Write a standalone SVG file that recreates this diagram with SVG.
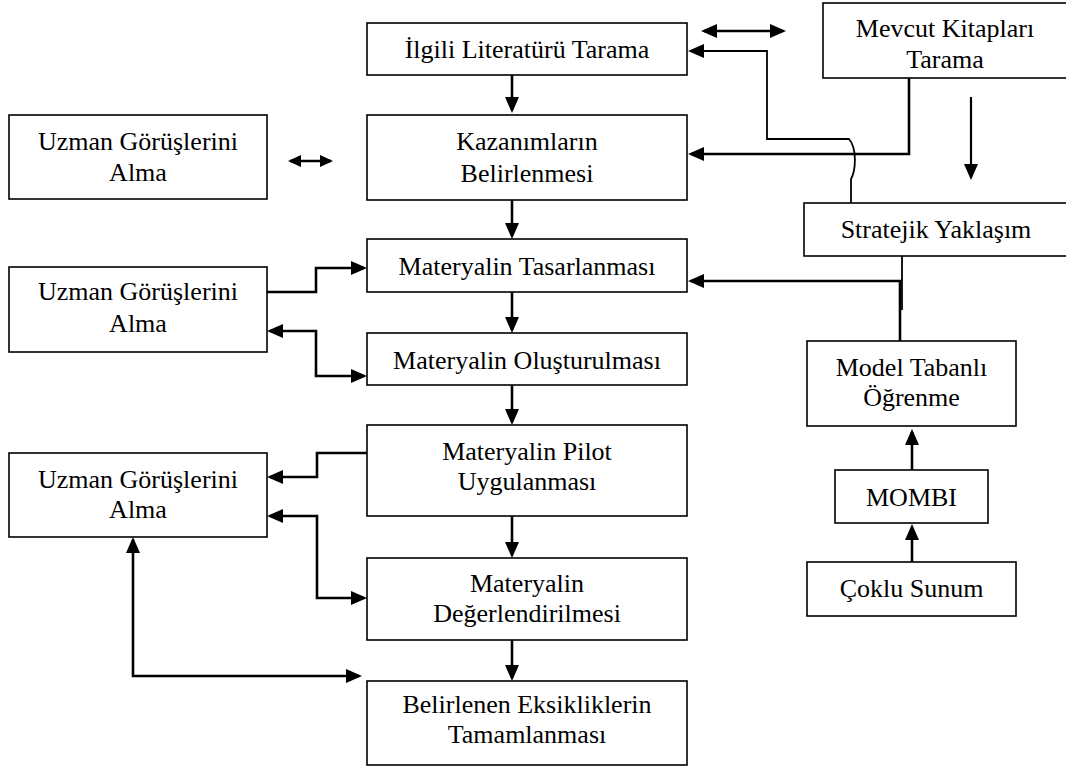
<svg xmlns="http://www.w3.org/2000/svg" width="1066" height="766" viewBox="0 0 1066 766">
  <style>
    .box { fill: #fff; stroke: #000; stroke-width: 1.6; }
    .lbl { font-family: "Liberation Serif", "Times New Roman", serif; font-size: 26px; fill: #000; text-anchor: middle; }
    .con { fill: none; stroke: #000; stroke-width: 2.6; }
    .thin { fill: none; stroke: #000; stroke-width: 1.8; }
  </style>
  <defs>
    <marker id="ah" viewBox="0 0 16 14" refX="13" refY="7" markerWidth="16" markerHeight="14" markerUnits="userSpaceOnUse" orient="auto-start-reverse">
      <path d="M0,0 L16,7 L0,14 z" fill="#000"/>
    </marker>
    <marker id="ahs" viewBox="0 0 13 12" refX="11" refY="6" markerWidth="13" markerHeight="12" markerUnits="userSpaceOnUse" orient="auto-start-reverse">
      <path d="M0,0 L13,6 L0,12 z" fill="#000"/>
    </marker>
  </defs>

  <rect width="1066" height="766" fill="#fff"/>

  <!-- connectors -->
  <g id="connectors">
    <!-- main column -->
    <path class="con" d="M512,75 V110" marker-end="url(#ah)"/>
    <path class="con" d="M512,200 V236" marker-end="url(#ah)"/>
    <path class="con" d="M512,292 V330" marker-end="url(#ah)"/>
    <path class="con" d="M512,385 V422" marker-end="url(#ah)"/>
    <path class="con" d="M512,516 V555" marker-end="url(#ah)"/>
    <path class="con" d="M512,640 V678" marker-end="url(#ah)"/>

    <!-- free double arrows -->
    <path class="con" d="M704,31 H783" marker-start="url(#ah)" marker-end="url(#ah)"/>
    <path class="con" d="M290,161 H331" marker-start="url(#ahs)" marker-end="url(#ahs)"/>

    <!-- right side -->
    <path class="con" d="M909,78 V154 H691" marker-end="url(#ah)"/>
    <path class="con" d="M971,97 V177" marker-end="url(#ah)" style="stroke-width:2.2"/>
    <path class="thin" d="M851,203 V179 C856,170 857,148 849,139 H767 V51 H691" marker-end="url(#ah)"/>
    <path class="thin" d="M902,256 V310"/>
    <path class="con" d="M900,341 V281 H691" marker-end="url(#ah)"/>
    <path class="con" d="M912,470 V432" marker-end="url(#ah)"/>
    <path class="con" d="M912,562 V527" marker-end="url(#ah)"/>

    <!-- expert feedback loops -->
    <path class="con" d="M267,292 H316 V268 H364" marker-end="url(#ah)"/>
    <path class="con" d="M364,376 H316 V331 H270" marker-start="url(#ah)" marker-end="url(#ah)"/>
    <path class="con" d="M367,453 H317 V477 H270" marker-end="url(#ah)"/>
    <path class="con" d="M270,516 H317 V598 H364" marker-start="url(#ah)" marker-end="url(#ah)"/>
    <path class="con" d="M133,540 V676 H359" marker-start="url(#ah)" marker-end="url(#ah)"/>
  </g>

  <!-- central process column -->
  <g id="ilgili-literatur">
    <rect class="box" x="367" y="23" width="320" height="52"/>
    <text class="lbl" x="527" y="58">İlgili Literatürü Tarama</text>
  </g>
  <g id="kazanimlar">
    <rect class="box" x="367" y="115" width="320" height="85"/>
    <text class="lbl" x="527" y="150">Kazanımların</text>
    <text class="lbl" x="527" y="182">Belirlenmesi</text>
  </g>
  <g id="tasarlanmasi">
    <rect class="box" x="367" y="239" width="320" height="53"/>
    <text class="lbl" x="527" y="275">Materyalin Tasarlanması</text>
  </g>
  <g id="olusturulmasi">
    <rect class="box" x="367" y="333" width="320" height="52"/>
    <text class="lbl" x="527" y="369">Materyalin Oluşturulması</text>
  </g>
  <g id="pilot">
    <rect class="box" x="367" y="425" width="320" height="91"/>
    <text class="lbl" x="527" y="460">Materyalin Pilot</text>
    <text class="lbl" x="527" y="490">Uygulanması</text>
  </g>
  <g id="degerlendirme">
    <rect class="box" x="367" y="558" width="320" height="82"/>
    <text class="lbl" x="527" y="592">Materyalin</text>
    <text class="lbl" x="527" y="622">Değerlendirilmesi</text>
  </g>
  <g id="eksiklikler">
    <rect class="box" x="367" y="681" width="320" height="84"/>
    <text class="lbl" x="527" y="713">Belirlenen Eksikliklerin</text>
    <text class="lbl" x="527" y="743">Tamamlanması</text>
  </g>

  <!-- expert opinion boxes -->
  <g id="uzman-1">
    <rect class="box" x="9" y="115" width="258" height="84"/>
    <text class="lbl" x="138" y="150">Uzman Görüşlerini</text>
    <text class="lbl" x="138" y="181">Alma</text>
  </g>
  <g id="uzman-2">
    <rect class="box" x="9" y="267" width="258" height="85"/>
    <text class="lbl" x="138" y="300">Uzman Görüşlerini</text>
    <text class="lbl" x="138" y="332">Alma</text>
  </g>
  <g id="uzman-3">
    <rect class="box" x="9" y="453" width="258" height="84"/>
    <text class="lbl" x="138" y="488">Uzman Görüşlerini</text>
    <text class="lbl" x="138" y="518">Alma</text>
  </g>

  <!-- right column -->
  <g id="mevcut-kitaplar">
    <rect class="box" x="823" y="3" width="245" height="75"/>
    <text class="lbl" x="945" y="37">Mevcut Kitapları</text>
    <text class="lbl" x="945" y="68">Tarama</text>
  </g>
  <g id="stratejik">
    <rect class="box" x="804" y="203" width="265" height="53"/>
    <text class="lbl" x="936" y="238">Stratejik Yaklaşım</text>
  </g>
  <g id="model-tabanli">
    <rect class="box" x="807" y="341" width="209" height="85"/>
    <text class="lbl" x="911.5" y="376">Model Tabanlı</text>
    <text class="lbl" x="911.5" y="406">Öğrenme</text>
  </g>
  <g id="mombi">
    <rect class="box" x="835" y="470" width="153" height="53"/>
    <text class="lbl" x="911.5" y="506">MOMBI</text>
  </g>
  <g id="coklu-sunum">
    <rect class="box" x="807" y="562" width="209" height="54"/>
    <text class="lbl" x="911.5" y="597">Çoklu Sunum</text>
  </g>
</svg>
